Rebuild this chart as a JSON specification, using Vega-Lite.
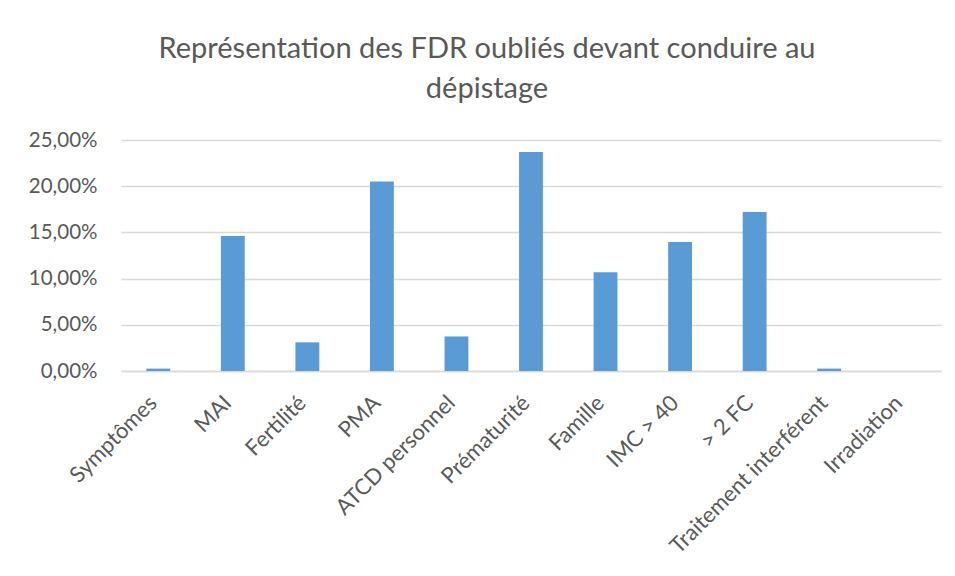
{
  "$schema": "https://vega.github.io/schema/vega-lite/v6.json",
  "autosize": "none",
  "width": 820,
  "height": 231,
  "padding": {"left": 121, "top": 140, "right": 15, "bottom": 205},
  "background": "white",
  "title": {
    "text": ["Représentation des FDR oubliés devant conduire au", "dépistage"],
    "anchor": "middle",
    "dx": -44,
    "offset": 26,
    "font": "Lato",
    "fontSize": 29,
    "fontWeight": "normal",
    "color": "#595959",
    "lineHeight": 40
  },
  "data": {
    "values": [
      {"facteur": "Symptômes", "pct": 0.0026},
      {"facteur": "MAI", "pct": 0.146},
      {"facteur": "Fertilité", "pct": 0.031},
      {"facteur": "PMA", "pct": 0.205},
      {"facteur": "ATCD personnel", "pct": 0.0374},
      {"facteur": "Prématurité", "pct": 0.237},
      {"facteur": "Famille", "pct": 0.107},
      {"facteur": "IMC > 40", "pct": 0.1396},
      {"facteur": "> 2 FC", "pct": 0.172},
      {"facteur": "Traitement interférent", "pct": 0.0026},
      {"facteur": "Irradiation", "pct": 0}
    ]
  },
  "mark": {"type": "bar", "color": "#5B9BD5"},
  "encoding": {
    "x": {
      "field": "facteur",
      "type": "nominal",
      "sort": null,
      "scale": {"paddingInner": 0.68, "paddingOuter": 0.34},
      "axis": {
        "title": null,
        "labelAngle": -45,
        "labelAlign": "right",
        "labelBaseline": "middle",
        "labelPadding": 28,
        "labelOffset": -5,
        "labelFont": "Lato",
        "labelFontSize": 22,
        "labelColor": "#595959",
        "ticks": false,
        "domainColor": "#d9d9d9",
        "domainWidth": 1.5,
        "labelLimit": 400
      }
    },
    "y": {
      "field": "pct",
      "type": "quantitative",
      "scale": {"domain": [0, 0.25]},
      "axis": {
        "title": null,
        "values": [0, 0.05, 0.1, 0.15, 0.2, 0.25],
        "labelExpr": "replace(format(datum.value, '.2%'), '.', ',')",
        "labelFont": "Lato",
        "labelFontSize": 20.5,
        "labelColor": "#595959",
        "labelPadding": 24,
        "ticks": false,
        "domain": false,
        "gridColor": "#d9d9d9",
        "gridWidth": 1.5
      }
    }
  },
  "config": {"view": {"stroke": null}}
}
